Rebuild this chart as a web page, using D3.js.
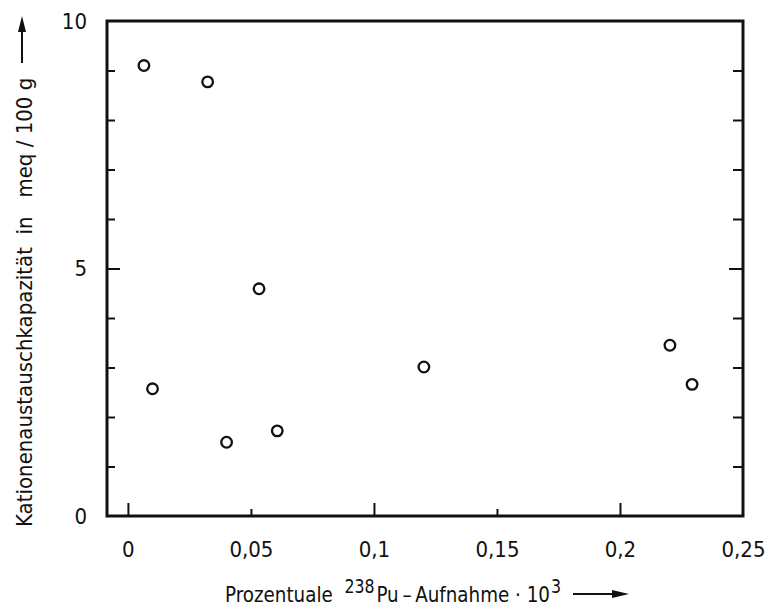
<!DOCTYPE html>
<html>
<head>
<meta charset="utf-8">
<script src="https://cdn.jsdelivr.net/npm/d3@7"></script>
<style>
  body { margin: 0; background: #fff; }
  svg { display: block; }
  text { font-family: "DejaVu Sans Condensed", "Liberation Sans Narrow", sans-serif; fill: #111; white-space: pre; }
</style>
</head>
<body>
<svg></svg>
<script>
// values
const uptake = [0.0065, 0.0324, 0.0533, 0.0100, 0.0401, 0.0607, 0.1203, 0.2203, 0.2293];
const capacity = [9.10, 8.77, 4.59, 2.57, 1.49, 1.72, 3.01, 3.45, 2.66];

const xTickValues = [0, 0.05, 0.1, 0.15, 0.2, 0.25];
const xTickLabels = ["0", "0,05", "0,1", "0,15", "0,2", "0,25"];
const xMajor = [0, 0.1, 0.2];
const xMinor = [0.05, 0.15];
const yTickValues = [0, 5, 10];
const yTickLabels = ["0", "5", "10"];
const yMinor = [1, 2, 3, 4, 6, 7, 8, 9];
const yMajor = [5];

const w = 768;
const h = 610;
const padLeft = 107, padRight = 743, padTop = 21, padBottom = 516;

const svg = d3.select("svg").attr("width", w).attr("height", h);

const xScale = d3.scaleLinear().domain([-0.0085, 0.25]).range([padLeft, padRight]);
const yScale = d3.scaleLinear().domain([0, 10]).range([padBottom, padTop]);

// ticks inside the frame
const tickGroup = (axis, tr) => {
  const g = svg.append("g").attr("transform", tr).call(axis);
  g.select(".domain").remove();
  g.selectAll(".tick line").attr("stroke", "#111").attr("stroke-width", 2);
  g.selectAll("text").remove();
  return g;
};
tickGroup(d3.axisBottom(xScale).tickValues(xMajor).tickSize(-13), `translate(0,${padBottom})`);
tickGroup(d3.axisBottom(xScale).tickValues(xMinor).tickSize(-7), `translate(0,${padBottom})`);
tickGroup(d3.axisLeft(yScale).tickValues(yMinor).tickSize(-8), `translate(${padLeft},0)`);
tickGroup(d3.axisLeft(yScale).tickValues(yMajor).tickSize(-13), `translate(${padLeft},0)`);
tickGroup(d3.axisRight(yScale).tickValues(yMinor).tickSize(-10), `translate(${padRight},0)`);
tickGroup(d3.axisRight(yScale).tickValues(yMajor).tickSize(-14), `translate(${padRight},0)`);

// tick labels
const xLab = svg.append("g").attr("transform", `translate(0,${padBottom})`)
  .call(d3.axisBottom(xScale).tickValues(xTickValues).tickSize(0).tickPadding(25)
    .tickFormat((d, i) => xTickLabels[i]));
xLab.select(".domain").remove();
xLab.attr("font-family", null).attr("font-size", null);
xLab.selectAll("text").attr("font-size", 22).attr("fill", "#111");

const yLab = svg.append("g").attr("transform", `translate(${padLeft},0)`)
  .call(d3.axisLeft(yScale).tickValues(yTickValues).tickSize(0).tickPadding(20)
    .tickFormat((d, i) => yTickLabels[i]));
yLab.select(".domain").remove();
yLab.attr("font-family", null).attr("font-size", null);
yLab.selectAll("text").attr("font-size", 22).attr("fill", "#111");

// frame
svg.append("rect")
  .attr("x", padLeft).attr("y", padTop)
  .attr("width", padRight - padLeft).attr("height", padBottom - padTop)
  .attr("fill", "none").attr("stroke", "#111").attr("stroke-width", 3);

// points
svg.selectAll("circle.pt")
  .data(uptake)
  .enter()
  .append("circle")
  .attr("class", "pt")
  .attr("cx", (d) => xScale(d))
  .attr("cy", (d, i) => yScale(capacity[i]))
  .attr("r", 5.3)
  .attr("fill", "#fff")
  .attr("stroke", "#111")
  .attr("stroke-width", 2.3);

// x title
const xt = svg.append("text").attr("x", 225).attr("y", 602).attr("font-size", 22)
  .attr("textLength", 336).attr("lengthAdjust", "spacingAndGlyphs");
xt.append("tspan").text("Prozentuale  ");
xt.append("tspan").attr("dy", -9).attr("font-size", 19).text("238");
xt.append("tspan").attr("dy", 9).attr("dx", 2).text("Pu\u2009–\u2009Aufnahme \u00b7 10");
xt.append("tspan").attr("dy", -9).attr("dx", 1).attr("font-size", 19).text("3");

svg.append("line").attr("x1", 573).attr("x2", 614).attr("y1", 594).attr("y2", 594)
  .attr("stroke", "#111").attr("stroke-width", 2);
svg.append("path").attr("d", "M612,590L629,594L612,598Z").attr("fill", "#111");

// y title
svg.append("text")
  .attr("transform", "translate(32,527) rotate(-90)")
  .attr("font-size", 22)
  .text("Kationenaustauschkapazität  in   meq / 100 g");

svg.append("line").attr("x1", 22).attr("x2", 22).attr("y1", 63).attr("y2", 30)
  .attr("stroke", "#111").attr("stroke-width", 2);
svg.append("path").attr("d", "M18,32L22,16L26,32Z").attr("fill", "#111");
</script>
</body>
</html>
